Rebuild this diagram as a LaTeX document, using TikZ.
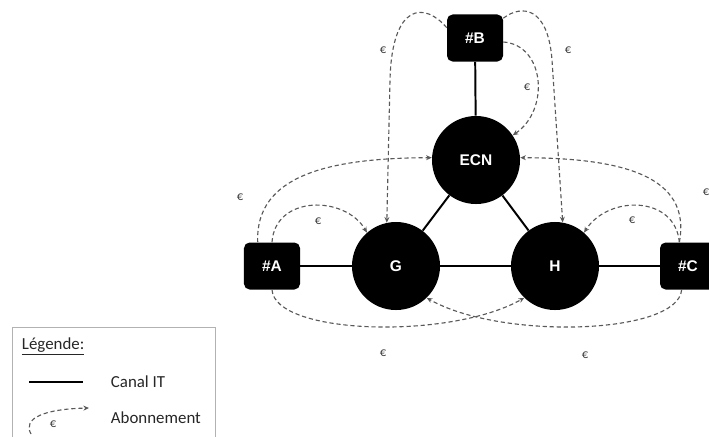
\documentclass[tikz,border=0pt]{standalone}
\usepackage{fontspec}
\setmainfont{Carlito}
\newfontfamily\nodefont{Liberation Sans}
\usepackage{xcolor}
\usetikzlibrary{math,arrows.meta}

\begin{document}
\begin{tikzpicture}[x=0.025cm,y=-0.025cm,
	hub/.style={circle,fill=black,text=white,minimum size=2.2cm,inner sep=0pt,
		font=\nodefont\bfseries\fontsize{11}{12}\selectfont},
	user/.style={rectangle,rounded corners=4pt,fill=black,text=white,
		minimum width=1.4cm,minimum height=1.175cm,inner sep=0pt,
		font=\nodefont\bfseries\fontsize{11}{12}\selectfont},
	canal/.style={line width=1.4pt},
	abo/.style={densely dashed,black!65,line width=0.8pt,-{Stealth[length=4pt,width=3.5pt]}},
	eur/.style={font=\fontsize{9}{10}\selectfont,text=black!75}]
\useasboundingbox (0,0) rectangle (709,436);
\tikzmath{
	{\node[hub] (ecn) at (476,160) {ECN};};
	{\node[hub] (g) at (396,266) {G};};
	{\node[hub] (h) at (555,266) {H};};
	{\node[user] (b) at (475,38) {\#B};};
	{\node[user] (a) at (272,266) {\#A};};
	{\node[user] (c) at (688,266) {\#C};};
	%
	{\draw[canal] (b) -- (ecn);};
	{\draw[canal] (ecn) -- (g);};
	{\draw[canal] (ecn) -- (h);};
	{\draw[canal] (a) -- (g);};
	{\draw[canal] (g) -- (h);};
	{\draw[canal] (h) -- (c);};
	%
	{\draw[abo] (b.160) .. controls (425,2) and (392,2) .. (390,80) -- (g.102);};
	{\draw[abo] (b.35) .. controls (522,4) and (548,7) .. (552,60) -- (h.80);};
	{\draw[abo] (b.-8) .. controls (545,45) and (550,110) .. (ecn.34);};
	{\draw[abo] (a.121) .. controls (255,175) and (330,158) .. (ecn.177);};
	{\draw[abo] (a.north) .. controls (275,195) and (345,195) .. (g.131);};
	{\draw[abo] (c.110) .. controls (692,175) and (620,158) .. (ecn.3);};
	{\draw[abo] (c.110) .. controls (675,195) and (608,195) .. (h.49);};
	{\draw[abo] (a.south) .. controls (275,335) and (450,340) .. (h.226);};
	{\draw[abo] (c.-105) .. controls (678,335) and (500,340) .. (g.-46);};
	%
	{\node[eur] (e1) at (383,50) {€};};
	{\node[eur] (e2) at (568,50) {€};};
	{\node[eur] (e3) at (527,87) {€};};
	{\node[eur] (e4) at (240,197) {€};};
	{\node[eur] (e5) at (318,221) {€};};
	{\node[eur] (e6) at (706,192) {€};};
	{\node[eur] (e7) at (632,220) {€};};
	{\node[eur] (e8) at (383,353) {€};};
	{\node[eur] (e9) at (585,355) {€};};
};
% legende
\draw[black!30] (12,445) -- (12,327) -- (215,327) -- (215,445);
\node[anchor=base west,text=black!85,font=\fontsize{12}{14}\selectfont] (leg) at (17,349) {\underline{Légende:}};
\coordinate (l1) at (29,382);
\coordinate (l2) at (83,382);
\draw[canal] (l1) -- (l2);
\node[anchor=west,text=black!85,font=\fontsize{12}{14}\selectfont] (canal) at (106,382) {Canal IT};
\coordinate (l3) at (31,434);
\coordinate (l4) at (89,408);
\draw[abo] (l3) .. controls (22,418) and (45,409) .. (l4);
\node[eur] (e0) at (53,424) {€};
\node[anchor=west,text=black!85,font=\fontsize{12}{14}\selectfont] (abon) at (106,418) {Abonnement};
\end{tikzpicture}
\end{document}
